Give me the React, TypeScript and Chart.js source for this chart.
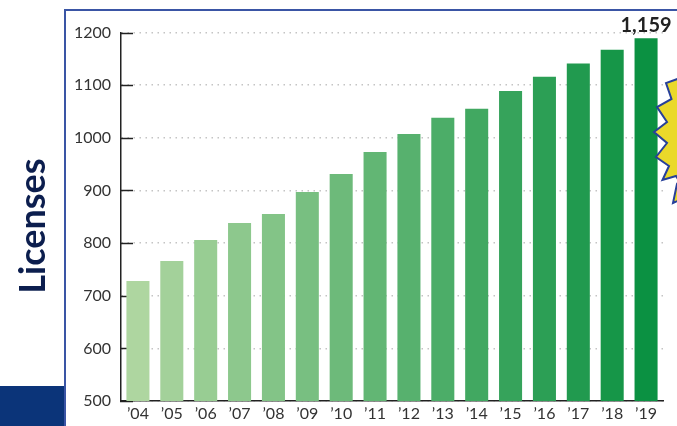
import React, { useEffect, useRef } from "react";
import { Chart, registerables } from "chart.js";

Chart.register(...registerables);

const years = ["’04", "’05", "’06", "’07", "’08", "’09", "’10", "’11", "’12", "’13", "’14", "’15", "’16", "’17", "’18", "’19"];
const licenses = [728, 766, 806, 838, 855, 897, 931, 973, 1007, 1038, 1055, 1089, 1116, 1141, 1167, 1189];
const yTicks = [500, 600, 700, 800, 900, 1000, 1100, 1200];
const highlightLabel = "1,159";
const axisTitle = "Licenses";

const lightGreen = [174, 214, 160];
const darkGreen = [11, 145, 66];

function barColors(n: number): string[] {
  const out: string[] = [];
  for (let i = 0; i < n; i++) {
    const t = n > 1 ? i / (n - 1) : 0;
    const c = lightGreen.map((v, k) => Math.round(v + (darkGreen[k] - v) * t));
    out.push(`rgb(${c[0]},${c[1]},${c[2]})`);
  }
  return out;
}

const decorPlugin = {
  id: "decor",
  beforeDatasetsDraw(chart: any) {
    const { ctx, chartArea, scales } = chart;
    const y = scales.y;
    ctx.save();
    ctx.strokeStyle = "#222";
    ctx.lineWidth = 1.5;
    yTicks.forEach((v) => {
      const py = Math.round(y.getPixelForValue(v)) + 0.5;
      ctx.beginPath();
      ctx.moveTo(chartArea.left - 1, py);
      ctx.lineTo(chartArea.left + 12, py);
      ctx.stroke();
    });
    ctx.restore();
  },
  afterDraw(chart: any) {
    const { ctx, scales } = chart;
    const x = scales.x;
    const y = scales.y;
    const last = licenses.length - 1;
    ctx.save();
    ctx.fillStyle = "#222";
    ctx.font = "bold 20px Lato";
    ctx.textAlign = "center";
    ctx.textBaseline = "alphabetic";
    ctx.fillText(highlightLabel, x.getPixelForValue(last), y.getPixelForValue(licenses[last]) - 6);
    ctx.restore();

    ctx.save();
    ctx.fillStyle = "#0c1e4e";
    ctx.font = "bold 36px Lato";
    ctx.translate(45, 226);
    ctx.rotate(-Math.PI / 2);
    ctx.textAlign = "center";
    ctx.textBaseline = "alphabetic";
    ctx.fillText(axisTitle, 0, 0);
    ctx.restore();
  },
};

function BarChart() {
  const ref = useRef<HTMLCanvasElement | null>(null);
  useEffect(() => {
    if (!ref.current) return;
    Chart.defaults.font.family = "Lato";
    const chart = new Chart(ref.current, {
      type: "bar",
      data: {
        labels: years,
        datasets: [
          {
            data: licenses,
            backgroundColor: barColors(licenses.length),
            borderWidth: 0,
            barPercentage: 0.68,
            categoryPercentage: 1,
          },
        ],
      },
      options: {
        responsive: false,
        animation: false,
        events: [],
        layout: { padding: { top: 32.5, right: 14, left: 0, bottom: 0 } },
        plugins: { legend: { display: false }, tooltip: { enabled: false } },
        scales: {
          x: {
            afterFit: (s: any) => {
              s.height = 25;
            },
            grid: { display: false, drawTicks: false },
            border: { display: true, color: "#222", width: 1.5 },
            ticks: { color: "#333", font: { size: 16 }, padding: 3, maxRotation: 0 },
          },
          y: {
            min: 500,
            max: 1200,
            afterFit: (s: any) => {
              s.width = 121;
            },
            afterBuildTicks: (s: any) => {
              s.ticks = yTicks.map((v) => ({ value: v }));
            },
            grid: { color: "#c4c4c4", lineWidth: 1.5, drawTicks: false },
            border: { display: true, color: "#222", width: 1.5, dash: [1.5, 4.5] },
            ticks: { color: "#333", font: { size: 16 }, padding: 10, callback: (v: any) => String(v) },
          },
        },
      },
      plugins: [decorPlugin],
    });
    return () => chart.destroy();
  }, []);
  return <canvas ref={ref} width={677} height={426} style={{ position: "absolute", left: 0, top: 0 }} />;
}

export default function App() {
  return (
    <div style={{ position: "absolute", left: 0, top: 0, width: 677, height: 426, overflow: "hidden", background: "#fff" }}>
      <div style={{ position: "absolute", left: 0, top: 386, width: 65, height: 40, background: "#0b3479" }} />
      <div style={{ position: "absolute", left: 64, top: 9, width: 2, height: 417, background: "#3a55a5" }} />
      <div style={{ position: "absolute", left: 64, top: 9, width: 613, height: 2, background: "#3a55a5" }} />
      <BarChart />
      <svg width={677} height={426} style={{ position: "absolute", left: 0, top: 0, pointerEvents: "none" }}>
        <polygon
          points="680,78 666,83 671.5,99 657,107 667,122 654,132 667,143 656,157 669,166 662.5,180 676,176 679,181 677,184 673,203 680,200"
          fill="#ead92a"
          stroke="#27409a"
          strokeWidth={2}
          strokeLinejoin="miter"
        />
      </svg>
    </div>
  );
}
